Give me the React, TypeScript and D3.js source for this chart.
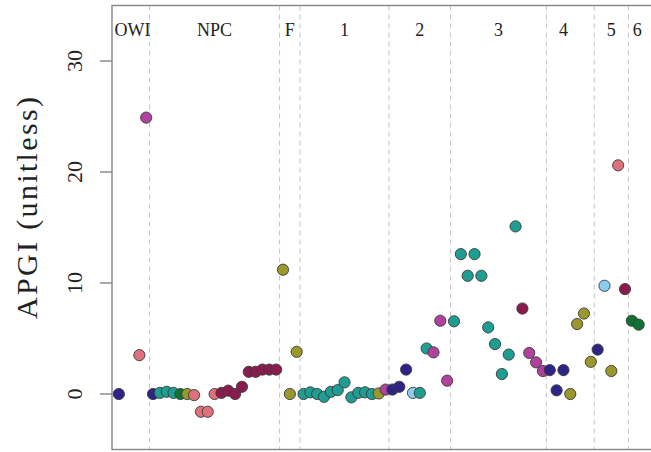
import React, { useEffect, useRef } from "react";
import * as d3 from "d3";

// groups along the x axis (sample index ranges)
const groupNames = ["OWI", "NPC", "F", "1", "2", "3", "4", "5", "6"];
const groupStart = [1, 6, 25, 28, 41, 50, 64, 71, 76];
const groupEnd = [5, 24, 27, 40, 49, 63, 70, 75, 77];
const groupLabelAt = [3, 15, 26, 34, 45, 56.5, 66, 73, 76.8];

const yTicks = [0, 10, 20, 30];

// samples: index, APGI value, class
const sampleIndex = [
  1, 4, 5,
  6, 7, 8, 9, 10, 11, 12, 13, 14, 15, 16, 17, 18, 19, 20, 21, 22, 23, 24,
  25, 26, 27,
  28, 29, 30, 31, 32, 33, 34, 35, 36, 37, 38, 39, 40,
  41, 42, 43, 44, 45, 46, 47, 48, 49,
  50, 51, 52, 53, 54, 55, 56, 57, 58, 59, 60, 61, 62, 63,
  64, 65, 66, 67, 68, 69, 70,
  71, 72, 73, 74, 75,
  76, 77,
];
const apgi = [
  0.0, 3.5, 24.9,
  0.0, 0.1, 0.2, 0.1, 0.0, 0.0, -0.1, -1.6, -1.6, 0.0, 0.1, 0.3, 0.0, 0.65, 2.0, 2.0, 2.2, 2.2, 2.2,
  11.2, 0.0, 3.8,
  0.0, 0.15, 0.0, -0.25, 0.2, 0.35, 1.05, -0.3, 0.1, 0.15, 0.0, 0.05, 0.4,
  0.4, 0.65, 2.2, 0.1, 0.1, 4.1, 3.75, 6.6, 1.2,
  6.55, 12.6, 10.65, 12.6, 10.65, 6.0, 4.5, 1.8, 3.55, 15.1, 7.7, 3.7, 2.85, 2.07,
  2.15, 0.33, 2.15, 0.0, 6.3, 7.25, 2.9,
  4.0, 9.75, 2.07, 20.6, 9.45,
  6.6, 6.25,
];
const sampleClass = [
  "indigo", "rose", "purple",
  "indigo", "teal", "teal", "teal", "green", "olive", "rose", "rose", "rose", "rose",
  "wine", "wine", "wine", "wine", "wine", "wine", "wine", "wine", "wine",
  "olive", "olive", "olive",
  "teal", "teal", "teal", "teal", "teal", "teal", "teal", "teal", "teal", "teal", "teal", "olive", "purple",
  "indigo", "indigo", "indigo", "cyan", "teal", "teal", "purple", "purple", "purple",
  "teal", "teal", "teal", "teal", "teal", "teal", "teal", "teal", "teal", "teal", "wine", "purple", "purple", "purple",
  "indigo", "indigo", "indigo", "olive", "olive", "olive", "olive",
  "indigo", "cyan", "olive", "rose", "wine",
  "green", "green",
];

const palette = {
  indigo: "#2e2387",
  teal: "#1f9d93",
  olive: "#9a982c",
  rose: "#de717b",
  purple: "#b0429e",
  wine: "#8a1b4f",
  green: "#0f7232",
  cyan: "#8bcdee",
};

export default function App() {
  const ref = useRef(null);

  useEffect(() => {
    const width = 651,
      height = 452;
    const left = 112,
      top = 5.5,
      bottom = 449.5;

    const x = d3.scaleLinear().domain([0, 80]).range([left, left + 80 * 6.84]);
    const y = d3.scaleLinear().domain([-5, 35]).range([bottom, top]);

    const svg = d3.select(ref.current);
    svg.selectAll("*").remove();
    svg.attr("width", width).attr("height", height);

    const font = "'Liberation Serif', 'DejaVu Serif', serif";

    // dashed separators between groups
    const seps = groupEnd.slice(0, -1).map((e, i) => (e + groupStart[i + 1]) / 2);
    svg
      .selectAll("line.sep")
      .data(seps)
      .join("line")
      .attr("class", "sep")
      .attr("x1", (d) => x(d))
      .attr("x2", (d) => x(d))
      .attr("y1", top)
      .attr("y2", bottom)
      .attr("stroke", "#c4c4c4")
      .attr("stroke-width", 1)
      .attr("stroke-dasharray", "5,4");

    // plot box
    svg
      .append("rect")
      .attr("x", left)
      .attr("y", top)
      .attr("width", x(80) - left)
      .attr("height", bottom - top)
      .attr("fill", "none")
      .attr("stroke", "#858585")
      .attr("stroke-width", 1.4);

    // y ticks
    svg
      .selectAll("line.tick")
      .data(yTicks)
      .join("line")
      .attr("class", "tick")
      .attr("x1", 100)
      .attr("x2", left)
      .attr("y1", (d) => y(d))
      .attr("y2", (d) => y(d))
      .attr("stroke", "#858585")
      .attr("stroke-width", 1.4);

    svg
      .selectAll("text.tl")
      .data(yTicks)
      .join("text")
      .attr("class", "tl")
      .attr("transform", (d) => `translate(82,${y(d)}) rotate(-90)`)
      .attr("text-anchor", "middle")
      .attr("font-family", font)
      .attr("font-size", 22)
      .attr("fill", "#222")
      .text((d) => d);

    svg
      .append("text")
      .attr("transform", "translate(37,208) rotate(-90)")
      .attr("text-anchor", "middle")
      .attr("font-family", font)
      .attr("font-size", 30)
      .attr("textLength", 222)
      .attr("lengthAdjust", "spacing")
      .attr("fill", "#222")
      .text("APGI (unitless)");

    // group labels
    svg
      .selectAll("text.grp")
      .data(groupNames)
      .join("text")
      .attr("class", "grp")
      .attr("x", (d, i) => x(groupLabelAt[i]))
      .attr("y", 36)
      .attr("text-anchor", "middle")
      .attr("font-family", font)
      .attr("font-size", 18)
      .attr("fill", "#222")
      .text((d) => d);

    // points
    svg
      .selectAll("circle.pt")
      .data(sampleIndex)
      .join("circle")
      .attr("class", "pt")
      .attr("cx", (d) => x(d))
      .attr("cy", (d, i) => y(apgi[i]))
      .attr("r", 5.6)
      .attr("fill", (d, i) => palette[sampleClass[i]])
      .attr("stroke", "#3a3a3a")
      .attr("stroke-width", 0.9);
  }, []);

  return (
    <div style={{ position: "absolute", left: 0, top: 0 }}>
      <svg ref={ref} style={{ display: "block" }}></svg>
    </div>
  );
}
